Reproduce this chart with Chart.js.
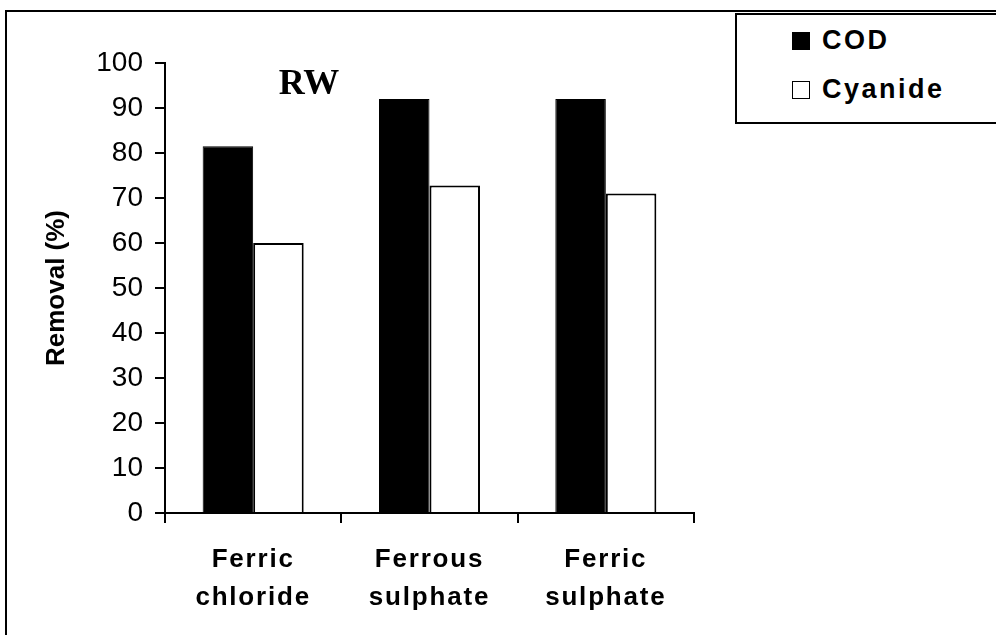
<!DOCTYPE html>
<html>
<head>
<meta charset="utf-8">
<script src="https://cdn.jsdelivr.net/npm/chart.js@4.4.1/dist/chart.umd.min.js"></script>
<style>
  html, body { margin: 0; padding: 0; background: #fff; }
  #wrap { position: relative; width: 996px; height: 635px; overflow: hidden; background: #fff; }
  #frame { position: absolute; left: 5px; top: 10px; width: 1200px; height: 900px;
           border-left: 2px solid #000; border-top: 2px solid #000; pointer-events: none; }
  #chart { position: absolute; left: 0; top: 0; }
  #legend { position: absolute; left: 735px; top: 13px; width: 300px; height: 111px;
            border: 2px solid #000; background: #fff; box-sizing: border-box;
            font: bold 27px "Liberation Sans", Arial, sans-serif; letter-spacing: 2.5px; color: #000; }
  #legend .item { position: absolute; left: 55px; display: flex; align-items: center; white-space: nowrap; }
  #legend .sw { width: 18px; height: 18px; box-sizing: border-box; border: 1.5px solid #000; margin-right: 12px; }
</style>
</head>
<body>
<div id="wrap">
  <canvas id="chart" width="996" height="635"></canvas>
  <div id="frame"></div>
  <div id="legend"></div>
</div>
<script>
// Coagulants tested
const categories = [["Ferric", "chloride"], ["Ferrous", "sulphate"], ["Ferric", "sulphate"]];
// Removal efficiencies (%)
const codRemoval = [81.5, 92.0, 92.0];
const cyanideRemoval = [60.0, 72.8, 71.0];
// Series names and fills
const seriesNames = ["COD", "Cyanide"];
const seriesFills = ["#000000", "#ffffff"];
// Value axis
const yMin = 0, yMax = 100, yStep = 10;
const yTitle = "Removal (%)";
const panelLabel = "RW";

const FONT = '"Liberation Sans", Arial, sans-serif';
Chart.defaults.color = "#000";

const panelLabelPlugin = {
  id: "panelLabel",
  afterDraw(chart) {
    const ctx = chart.ctx;
    ctx.save();
    ctx.fillStyle = "#000";
    ctx.font = 'bold 36px "Liberation Serif", "Times New Roman", serif';
    ctx.textAlign = "center";
    ctx.textBaseline = "middle";
    ctx.fillText(panelLabel, chart.chartArea.left + 144, chart.chartArea.top + 22);
    ctx.restore();
  }
};

const chart = new Chart(document.getElementById("chart"), {
  type: "bar",
  data: {
    labels: categories,
    datasets: [
      { label: seriesNames[0], data: codRemoval, backgroundColor: seriesFills[0],
        borderColor: "#000", borderWidth: 1 },
      { label: seriesNames[1], data: cyanideRemoval, backgroundColor: seriesFills[1],
        borderColor: "#000", borderWidth: 2 }
    ]
  },
  options: {
    responsive: false,
    animation: false,
    events: [],
    layout: { padding: { left: 0, top: 63, right: 302, bottom: 0 } },
    categoryPercentage: 0.573,
    barPercentage: 1.0,
    plugins: { legend: { display: false }, tooltip: { enabled: false } },
    scales: {
      x: {
        offset: true,
        grid: { display: true, offset: true, drawOnChartArea: false, drawTicks: true,
                tickLength: 10, color: "#000", lineWidth: 2 },
        border: { display: true, color: "#000", width: 2 },
        ticks: { color: "#000", padding: 18, maxRotation: 0, autoSkip: false,
                 font: { family: FONT, size: 26, weight: "bold", lineHeight: 1.45 } },
        afterFit(scale) { scale.height = 122; }
      },
      y: {
        min: yMin, max: yMax,
        grid: { display: true, drawOnChartArea: false, drawTicks: true,
                tickLength: 10, color: "#000", lineWidth: 2 },
        border: { display: true, color: "#000", width: 2 },
        ticks: { stepSize: yStep, color: "#000", padding: 12,
                 font: { family: FONT, size: 28 } },
        title: { display: true, text: yTitle, color: "#000",
                 font: { family: FONT, size: 26, weight: "bold" },
                 padding: { top: 41, bottom: 0 } },
        afterFit(scale) { scale.width = 165; }
      }
    }
  },
  plugins: [panelLabelPlugin]
});

// Category labels are set with slightly expanded lettering
const xScale = chart.scales.x;
const drawXLabels = xScale.drawLabels.bind(xScale);
xScale.drawLabels = function (area) {
  const ctx = this.ctx;
  const prev = ctx.letterSpacing;
  if ("letterSpacing" in ctx) ctx.letterSpacing = "1.8px";
  drawXLabels(area);
  if ("letterSpacing" in ctx) ctx.letterSpacing = prev || "0px";
};
chart.draw();

// Legend built from the series definitions
const legend = document.getElementById("legend");
seriesNames.forEach((name, i) => {
  const item = document.createElement("div");
  item.className = "item";
  item.style.top = (i === 0 ? 10 : 59) + "px";
  const sw = document.createElement("span");
  sw.className = "sw";
  sw.style.background = seriesFills[i];
  const txt = document.createElement("span");
  txt.textContent = name;
  item.appendChild(sw);
  item.appendChild(txt);
  legend.appendChild(item);
});
</script>
</body>
</html>
